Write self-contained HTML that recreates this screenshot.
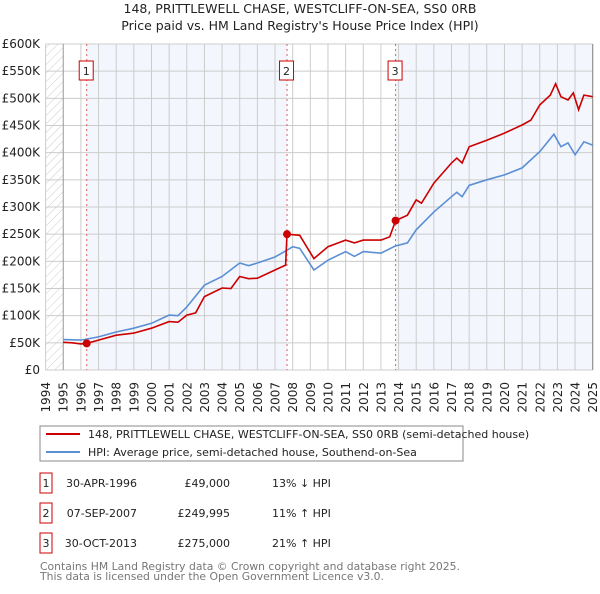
<!DOCTYPE html>
<html><head><meta charset="utf-8"><style>
body{margin:0;background:#fff;font-family:"DejaVu Sans","Liberation Sans",sans-serif;}
svg text{font-family:"DejaVu Sans","Liberation Sans",sans-serif;}
</style></head><body>
<svg id="c" width="600" height="590" xmlns="http://www.w3.org/2000/svg">
<defs><pattern id="hatch" width="6" height="6" patternUnits="userSpaceOnUse" patternTransform="rotate(45)"><line x1="0" y1="0" x2="0" y2="6" stroke="#ccc" stroke-width="1"/></pattern></defs>
<text x="300" y="13" text-anchor="middle" font-size="12.5" fill="#222">148, PRITTLEWELL CHASE, WESTCLIFF-ON-SEA, SS0 0RB</text>
<text x="300" y="30" text-anchor="middle" font-size="12.5" fill="#222">Price paid vs. HM Land Registry's House Price Index (HPI)</text>
<g id="plot"></g>
<rect x="40" y="426" width="423" height="35" fill="#fff" stroke="#888"/>
<line x1="46" y1="434" x2="80" y2="434" stroke="#cc0000" stroke-width="2"/>
<text x="88" y="438" font-size="11" fill="#222">148, PRITTLEWELL CHASE, WESTCLIFF-ON-SEA, SS0 0RB (semi-detached house)</text>
<line x1="46" y1="452" x2="80" y2="452" stroke="#5b8fd4" stroke-width="2"/>
<text x="88" y="456" font-size="11" fill="#222">HPI: Average price, semi-detached house, Southend-on-Sea</text>
<g id="tbl" font-size="11" fill="#222"></g>
<text x="40" y="570" font-size="10.8" fill="#777">Contains HM Land Registry data © Crown copyright and database right 2025.</text>
<text x="40" y="580" font-size="10.8" fill="#777">This data is licensed under the Open Government Licence v3.0.</text>
</svg>
<script>
const priceYears=[1995,1995.5,1996,1996.33,1997,1998,1999,2000,2001,2001.5,2002,2002.5,2003,2004,2004.5,2005,2005.5,2006,2007,2007.6,2007.68,2008.4,2009.2,2010,2011,2011.5,2012,2013,2013.5,2013.83,2014.5,2015,2015.3,2016,2017,2017.3,2017.6,2018,2019,2020,2021,2021.5,2022,2022.6,2022.9,2023.2,2023.6,2023.9,2024.2,2024.5,2025];
const priceVals=[51,50,48,49,55,64,68,77,89,88,101,105,135,151,150,172,168,169,184,193,250,248,205,227,239,234,239,239,245,275,285,313,307,344,381,390,381,411,423,436,451,460,488,506,527,503,497,510,479,506,503];
const hpiYears=[1995,1996,1997,1998,1999,2000,2001,2001.5,2002,2003,2004,2005,2005.5,2006,2007,2007.7,2008,2008.4,2009.2,2010,2011,2011.5,2012,2013,2013.8,2014.5,2015,2016,2017,2017.3,2017.6,2018,2019,2020,2021,2022,2022.8,2023.2,2023.6,2024,2024.5,2025];
const hpiVals=[56,55,61,70,77,86,101,100,116,156,172,197,192,197,208,221,227,224,184,202,218,209,218,215,228,234,258,291,319,327,319,340,350,359,372,402,434,411,418,396,420,414];
const yTicks=[0,50,100,150,200,250,300,350,400,450,500,550,600];
const saleYears=[1996.33,2007.68,2013.83];
const saleVals=[49,249.995,275];
const saleLabels=["1","2","3"];
const saleDates=["30-APR-1996","07-SEP-2007","30-OCT-2013"];
const salePrices=["£49,000","£249,995","£275,000"];
const saleHpi=["13% ↓ HPI","11% ↑ HPI","21% ↑ HPI"];
const X0=45.6,X1=592.7,Y0=370,Y1=44;
const xs=y=>X0+(y-1994)*(X1-X0)/31;
const ys=v=>Y0-v*(Y0-Y1)/600;
const NS="http://www.w3.org/2000/svg";
const g=document.getElementById('plot');
function mk(t,a,p){const e=document.createElementNS(NS,t);for(const k in a)e.setAttribute(k,a[k]);(p||g).appendChild(e);return e;}
let e;
e=mk('rect',{x:xs(saleYears[0]),y:Y1,width:xs(saleYears[1])-xs(saleYears[0]),height:Y0-Y1,fill:'#f3f6fd'});


e=mk('rect',{x:xs(saleYears[2]),y:Y1,width:X1-xs(saleYears[2]),height:Y0-Y1,fill:'#f3f6fd'});


e=mk('rect',{x:X0,y:Y1,width:xs(1995)-X0,height:Y0-Y1,fill:'url(#hatch)'});


yTicks.forEach(v=>{
 e=mk('line',{x1:X0,x2:X1,y1:ys(v),y2:ys(v),stroke:'#ccc'});
 
 
 e=mk('text',{x:40,y:ys(v)+4,'text-anchor':'end','font-size':12,fill:'#222'});
 e.textContent=v===0?'£0':'£'+v+'K';
 
 
});
for(let y=1994;y<=2025;y++){
 e=mk('line',{x1:xs(y),x2:xs(y),y1:Y1,y2:Y0,stroke:y===1995?'#999':'#ccc'});
 
 
 e=mk('text',{transform:`translate(${xs(y)+4.5},382) rotate(-90)`,'text-anchor':'end','font-size':12,fill:'#222'});
 e.textContent=y;
 
 
}
e=mk('line',{x1:X1,x2:X1,y1:Y1,y2:Y0,stroke:'#888'});


saleYears.forEach((s,i)=>{
 e=mk('line',{x1:xs(s),x2:xs(s),y1:Y1,y2:Y0,stroke:'#e06060','stroke-dasharray':'2,3'});
 
 
 e=mk('rect',{x:xs(s)-7.5,y:61,width:14,height:19,fill:'#fff',stroke:'#cc0000'});
 
 
 e=mk('text',{x:xs(s)-0.5,y:75,'text-anchor':'middle','font-size':11,fill:'#222'});
 e.textContent=saleLabels[i];
 
 
});
const pts=(a,b)=>a.map((y,i)=>xs(y).toFixed(1)+','+ys(b[i]).toFixed(1)).join(' ');
e=mk('polyline',{points:pts(hpiYears,hpiVals),fill:'none',stroke:'#5b8fd4','stroke-width':1.6});


e=mk('polyline',{points:pts(priceYears,priceVals),fill:'none',stroke:'#cc0000','stroke-width':1.6});


saleYears.forEach((s,i)=>{
 e=mk('circle',{cx:xs(s),cy:ys(saleVals[i]),r:4,fill:'#cc0000'});
 
 
});
const t=document.getElementById('tbl');
saleYears.forEach((s,i)=>{
 const y=483+i*30;
 e=mk('rect',{x:40,y:y-10,width:12,height:20,fill:'#fff',stroke:'#cc0000'},t);
 
 
 e=mk('text',{x:46,y:y+4,'text-anchor':'middle'},t);e.textContent=saleLabels[i];
 
 
 e=mk('text',{x:137,y:y+4,'text-anchor':'end'},t);e.textContent=saleDates[i];
 
 
 e=mk('text',{x:230,y:y+4,'text-anchor':'end'},t);e.textContent=salePrices[i];
 
 
 e=mk('text',{x:272,y:y+4},t);e.textContent=saleHpi[i];
 
 
});
</script>
</body></html>
